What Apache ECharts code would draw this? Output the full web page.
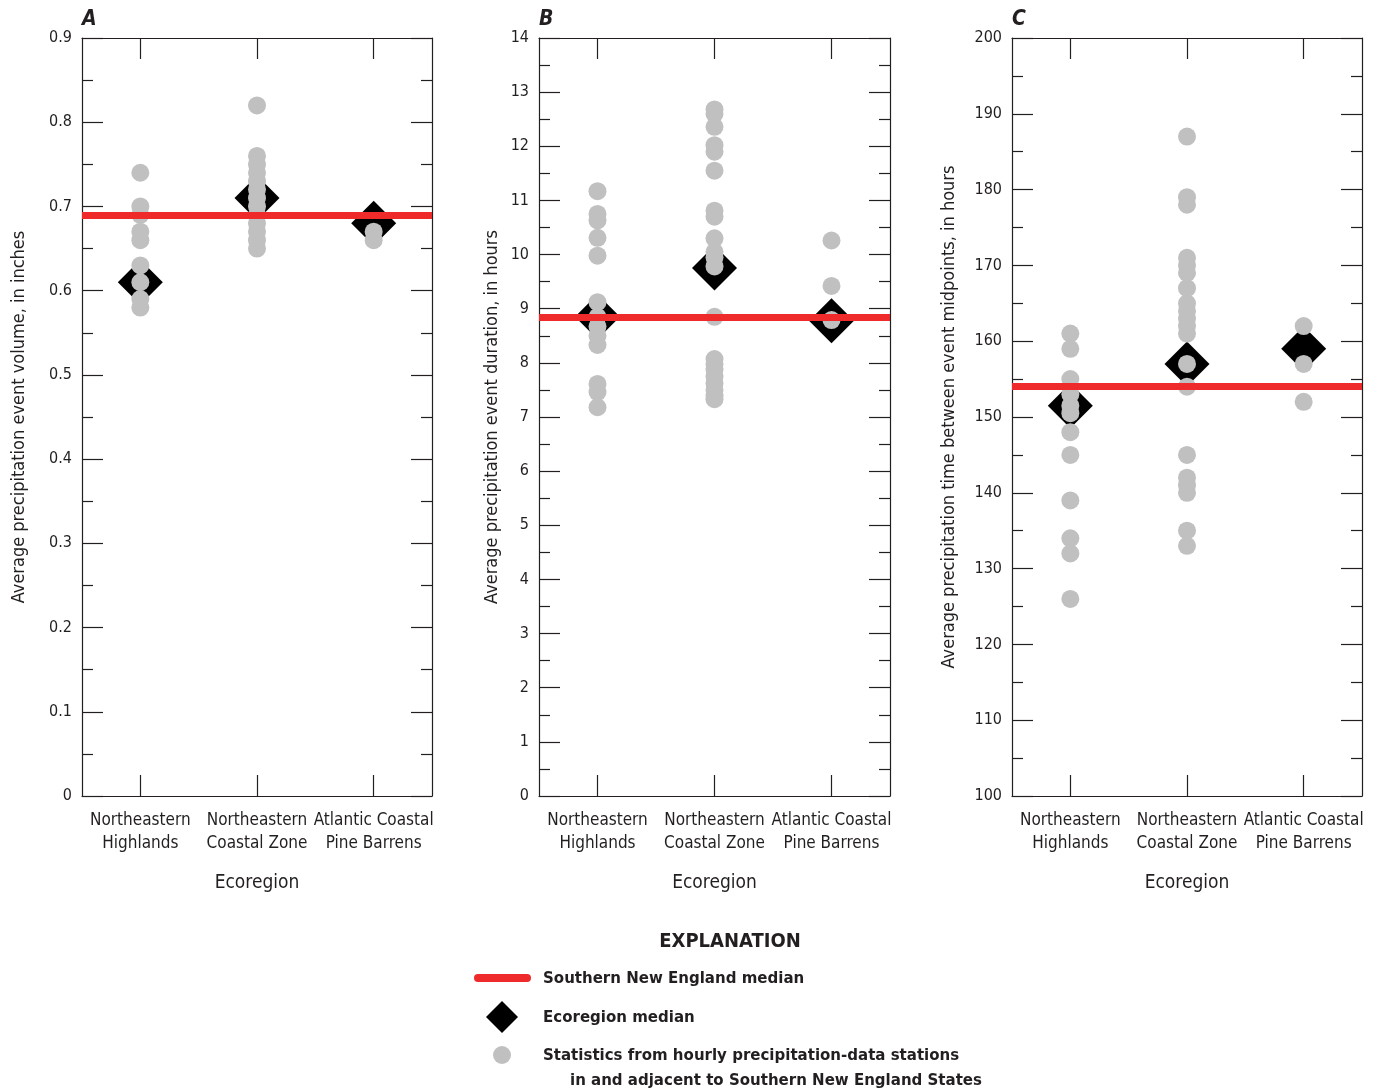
<!DOCTYPE html>
<html>
<head>
<meta charset="utf-8">
<title>Average precipitation event statistics by ecoregion</title>
<script src="https://cdn.jsdelivr.net/npm/echarts@6/dist/echarts.min.js"></script>
<style>
  html, body { margin: 0; padding: 0; background: #ffffff; }
  #chart { width: 1376px; height: 1092px; }
</style>
</head>
<body>
<div id="chart"></div>
<script>
// Ecoregions shown on each panel's category axis
const ecoregions = ['Northeastern\nHighlands', 'Northeastern\nCoastal Zone', 'Atlantic Coastal\nPine Barrens'];

// Panel A: average precipitation event volume, in inches
const volumeHighlands = [0.74, 0.70, 0.69, 0.67, 0.66, 0.63, 0.61, 0.59, 0.58];
const volumeCoastalZone = [0.82, 0.76, 0.75, 0.74, 0.73, 0.72, 0.71, 0.70, 0.69, 0.68, 0.67, 0.66, 0.65];
const volumePineBarrens = [0.67, 0.66];
const volumeEcoregionMedians = [0.61, 0.71, 0.68];
const volumeRegionalMedian = 0.69;

// Panel B: average precipitation event duration, in hours
const durationHighlands = [11.17, 10.75, 10.63, 10.31, 9.98, 9.12, 8.85, 8.67, 8.50, 8.33, 7.61, 7.46, 7.18];
const durationCoastalZone = [12.68, 12.60, 12.36, 12.02, 11.90, 11.55, 10.81, 10.70, 10.30, 10.05, 9.95, 9.78, 8.85,
  8.07, 7.98, 7.88, 7.75, 7.62, 7.50, 7.40, 7.33];
const durationPineBarrens = [10.26, 9.42, 8.79];
const durationEcoregionMedians = [8.85, 9.75, 8.78];
const durationRegionalMedian = 8.85;

// Panel C: average precipitation time between event midpoints, in hours
const intervalHighlands = [161, 159, 155, 153, 151.5, 150.5, 148, 145, 139, 134, 132, 126];
const intervalCoastalZone = [187, 179, 178, 171, 170, 169, 167, 165, 164, 163, 162, 161, 157, 154,
  145, 142, 141, 140, 135, 133];
const intervalPineBarrens = [162, 157, 152];
const intervalEcoregionMedians = [151.5, 157, 159];
const intervalRegionalMedian = 154;

// Axis scales
const volumeAxis = { min: 0, max: 0.9, interval: 0.1 };
const durationAxis = { min: 0, max: 14, interval: 1 };
const intervalAxis = { min: 100, max: 200, interval: 10 };

const FONT = '"DejaVu Sans Condensed", "Liberation Sans Narrow", "DejaVu Sans", sans-serif';
const INK = '#231f20';
const STATION_GREY = '#c0c0c0';
const MEDIAN_RED = '#ee2a2a';

const panels = [
  {
    letter: 'A', left: 82, width: 350, nameGap: 54,
    yName: 'Average precipitation event volume, in inches',
    axis: volumeAxis,
    stations: [volumeHighlands, volumeCoastalZone, volumePineBarrens],
    medians: volumeEcoregionMedians, regional: volumeRegionalMedian
  },
  {
    letter: 'B', left: 539, width: 351, nameGap: 38,
    yName: 'Average precipitation event duration, in hours',
    axis: durationAxis,
    stations: [durationHighlands, durationCoastalZone, durationPineBarrens],
    medians: durationEcoregionMedians, regional: durationRegionalMedian
  },
  {
    letter: 'C', left: 1012, width: 350, nameGap: 54,
    yName: 'Average precipitation time between event midpoints, in hours',
    axis: intervalAxis,
    stations: [intervalHighlands, intervalCoastalZone, intervalPineBarrens],
    medians: intervalEcoregionMedians, regional: intervalRegionalMedian
  }
];

const GRID_TOP = 38;
const GRID_HEIGHT = 758;

const grid = [];
const xAxis = [];
const yAxis = [];
const series = [];
const graphic = [];

function axisLine() {
  return { show: true, onZero: false, lineStyle: { color: INK, width: 1.2 } };
}
function categoryTick() {
  return { show: true, inside: true, length: 21, interval: 0, alignWithLabel: true, lineStyle: { color: INK, width: 1.2 } };
}

panels.forEach((p, i) => {
  grid.push({ left: p.left, top: GRID_TOP, width: p.width, height: GRID_HEIGHT, outerBoundsMode: 'none' });

  // bottom category axis with labels and axis title
  xAxis.push({
    type: 'category', gridIndex: i, position: 'bottom', data: ecoregions.slice(),
    boundaryGap: true,
    axisLine: axisLine(),
    axisTick: categoryTick(),
    axisLabel: { show: true, interval: 0, margin: 13, fontFamily: FONT, fontSize: 17, color: INK, lineHeight: 23 },
    splitLine: { show: false },
    name: 'Ecoregion', nameLocation: 'middle', nameGap: 78, nameMoveOverlap: false,
    nameTextStyle: { fontFamily: FONT, fontSize: 19, color: INK }
  });
  // top mirror axis (ticks only)
  xAxis.push({
    type: 'category', gridIndex: i, position: 'top', data: ecoregions.slice(),
    boundaryGap: true,
    axisLine: axisLine(),
    axisTick: categoryTick(),
    axisLabel: { show: false, interval: 0 },
    splitLine: { show: false }
  });

  const valueTicks = () => ({
    axisLine: axisLine(),
    axisTick: { show: true, inside: true, length: 21, lineStyle: { color: INK, width: 1.2 } },
    minorTick: { show: true, splitNumber: 2, length: 11, lineStyle: { color: INK, width: 1.2 } },
    splitLine: { show: false },
    minorSplitLine: { show: false }
  });

  // left value axis with labels and title
  yAxis.push(Object.assign({
    type: 'value', gridIndex: i, position: 'left',
    min: p.axis.min, max: p.axis.max, interval: p.axis.interval,
    axisLabel: { show: true, margin: 10, fontFamily: FONT, fontSize: 16, color: INK, hideOverlap: false },
    name: p.yName, nameLocation: 'middle', nameGap: p.nameGap, nameMoveOverlap: false,
    nameTextStyle: { fontFamily: FONT, fontSize: 18, color: INK }
  }, valueTicks()));
  // right mirror axis (ticks only)
  yAxis.push(Object.assign({
    type: 'value', gridIndex: i, position: 'right',
    min: p.axis.min, max: p.axis.max, interval: p.axis.interval,
    axisLabel: { show: false }
  }, valueTicks()));

  const xIdx = i * 2;
  const yIdx = i * 2;

  // ecoregion medians (black diamonds), drawn beneath the station dots
  series.push({
    type: 'scatter', name: 'Ecoregion median', xAxisIndex: xIdx, yAxisIndex: yIdx,
    symbol: 'diamond', symbolSize: 45, z: 2, silent: true,
    itemStyle: { color: '#000000', opacity: 1 },
    data: p.medians.map((v, k) => [k, v])
  });

  // station statistics (grey dots)
  const stationPoints = [];
  p.stations.forEach((vals, k) => vals.forEach(v => stationPoints.push([k, v])));
  series.push({
    type: 'scatter', name: 'Stations', xAxisIndex: xIdx, yAxisIndex: yIdx,
    symbol: 'circle', symbolSize: 18, z: 3, silent: true,
    itemStyle: { color: STATION_GREY, opacity: 1 },
    data: stationPoints
  });

  // Southern New England median (red line across the panel)
  series.push({
    type: 'scatter', name: 'Southern New England median', xAxisIndex: xIdx, yAxisIndex: yIdx,
    z: 4, silent: true, data: [],
    markLine: {
      silent: true, symbol: 'none', animation: false,
      label: { show: false },
      lineStyle: { color: MEDIAN_RED, width: 7, type: 'solid' },
      data: [{ yAxis: p.regional }]
    }
  });

  // panel letter
  graphic.push({
    type: 'text', left: p.left, top: 9,
    style: { text: p.letter, font: 'italic bold 21px ' + FONT, fill: INK }
  });
});

// Explanation block
const legendTextFont = 'bold 16.7px ' + FONT;
graphic.push(
  { type: 'text', x: 730, y: 942, style: { text: 'EXPLANATION', font: 'bold 20px ' + FONT, fill: INK, align: 'center', verticalAlign: 'middle' } },
  { type: 'line', shape: { x1: 478, y1: 978, x2: 527, y2: 978 }, style: { stroke: MEDIAN_RED, lineWidth: 8, lineCap: 'round' } },
  { type: 'text', x: 543, y: 979, style: { text: 'Southern New England median', font: legendTextFont, fill: INK, verticalAlign: 'middle' } },
  { type: 'polygon', shape: { points: [[502, 1001], [518, 1017], [502, 1033], [486, 1017]] }, style: { fill: '#000000' } },
  { type: 'text', x: 543, y: 1018, style: { text: 'Ecoregion median', font: legendTextFont, fill: INK, verticalAlign: 'middle' } },
  { type: 'circle', shape: { cx: 502, cy: 1055, r: 9 }, style: { fill: STATION_GREY } },
  { type: 'text', x: 543, y: 1056, style: { text: 'Statistics from hourly precipitation-data stations', font: legendTextFont, fill: INK, verticalAlign: 'middle' } },
  { type: 'text', x: 570, y: 1081, style: { text: 'in and adjacent to Southern New England States', font: legendTextFont, fill: INK, verticalAlign: 'middle' } }
);

const chart = echarts.init(document.getElementById('chart'), null, { renderer: 'canvas' });
chart.setOption({
  animation: false,
  backgroundColor: '#ffffff',
  textStyle: { fontFamily: FONT },
  grid: grid,
  xAxis: xAxis,
  yAxis: yAxis,
  series: series,
  graphic: graphic
});
</script>
</body>
</html>
